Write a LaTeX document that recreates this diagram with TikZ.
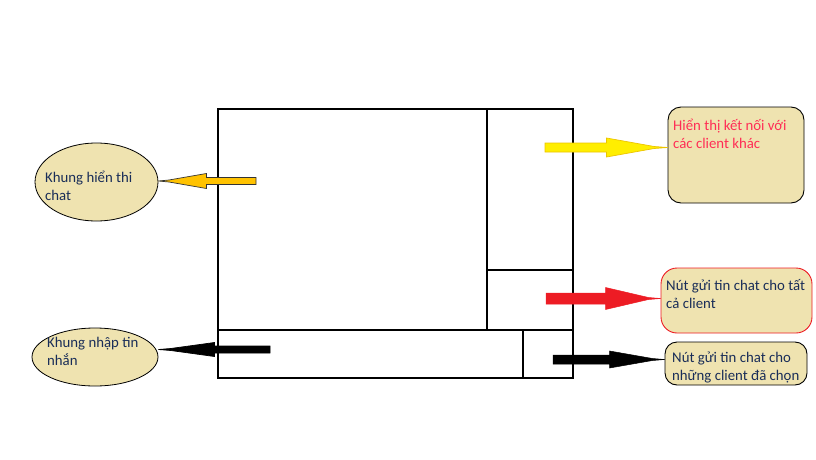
\documentclass[tikz,border=0pt]{standalone}
\usepackage{fontspec}
\setmainfont{Carlito}
\usetikzlibrary{shapes.geometric,calc,positioning}
\definecolor{khaki}{RGB}{239,227,176}
\definecolor{inkblue}{RGB}{25,45,88}
\definecolor{linkred}{RGB}{255,45,85}
\definecolor{amber}{RGB}{255,194,0}
\definecolor{lemon}{RGB}{255,238,0}
\definecolor{lemonedge}{RGB}{236,196,0}
\definecolor{flagred}{RGB}{237,28,36}
% block arrow: tail, target, shaft half, head half, head length (signed), style
\newcommand{\blockarrow}[6]{%
  \filldraw[#6] let \p1=(#1), \p2=(#2) in
    (\x1,{\y1+#3}) -- ({\x2+(#5)},{\y1+#3}) -- ({\x2+(#5)},{\y1+#4})
    -- ({\x2+0.22*(#5)},{\y1+1pt}) -- (\x2,\y1) -- ({\x2+0.22*(#5)},{\y1-1pt})
    -- ({\x2+(#5)},{\y1-#4}) -- ({\x2+(#5)},{\y1-#3})
    -- (\x1,{\y1-#3}) -- cycle;}
\begin{document}
\begin{tikzpicture}[x=1pt,y=-1pt,
    txt/.style={font=\fontsize{14.8}{17.6}\selectfont,inner sep=0pt,align=left,anchor=base west,text=inkblue},
    bubble/.style={ellipse,draw=black,line width=0.8pt,fill=khaki,inner sep=0pt},
    card/.style={rectangle,draw=black,line width=0.9pt,fill=khaki,inner sep=0pt},
    pane/.style={draw=black,line width=1.2pt}]
	\useasboundingbox (0,0) rectangle (816,460);

	% the chat window
	\draw[pane] (218,109) rectangle (573,378);
	\draw[pane] (487,109) -- (487,330);
	\draw[pane] (487,270) -- (573,270);
	\draw[pane,line width=2.2pt] (218,330) -- (573,330);
	\draw[pane,line width=2.2pt] (523,330) -- (523,378);

	\coordinate (chatTail) at (256,181);
	\coordinate (inputTail) at (270,349.5);
	\coordinate (peersTail) at (545,147.5);
	\coordinate (allTail) at (546,298.5);
	\coordinate (pickTail) at (553,359.5);

	% callouts
	\node[bubble,minimum width=123,minimum height=78] (chatEll) at (96.5,182) {};
	\node[bubble,minimum width=126,minimum height=58] (inputEll) at (95,357) {};
	\node[card,rounded corners=13,minimum width=136,minimum height=96] (peersBox) at (736,155) {};
	\node[card,draw=flagred,rounded corners=16,minimum width=151,minimum height=65] (allBox) at (736.5,300.5) {};
	\node[card,rounded corners=12,minimum width=142,minimum height=43] (pickBox) at (736,363.5) {};

	% texts (anchored on the baseline of the last line)
	\node[txt] (chatTxt) at (45,200.5) {Khung hiển thi\\chat};
	\node[txt] (inputTxt) at (47,365) {Khung nhập tin\\nhắn};
	\node[txt,text=linkred] (peersTxt) at (673,148) {Hiển thị kết nối với\\các client khác};
	\node[txt] (allTxt) at (666,308.5) {Nút gửi tin chat cho tất\\cả client};
	\node[txt] (pickTxt) at (672,380) {Nút gửi tin chat cho\\những client đã chọn};

	% arrows
	\blockarrow{chatTail}{chatEll.east}{3.5pt}{7.5pt}{48pt}{fill=amber,draw=black!80,line width=0.7pt}
	\blockarrow{inputTail}{inputEll.east}{3.5pt}{7pt}{56pt}{fill=black,draw=black,line width=0.7pt}
	\blockarrow{peersTail}{peersBox.west}{4.5pt}{9.5pt}{-61pt}{fill=lemon,draw=lemonedge,line width=0.7pt}
	\blockarrow{allTail}{allBox.west}{5.5pt}{11pt}{-55pt}{fill=flagred,draw=flagred,line width=0.5pt}
	\blockarrow{pickTail}{pickBox.west}{4.5pt}{8.5pt}{-55pt}{fill=black,draw=black,line width=0.5pt}
\end{tikzpicture}
\end{document}
